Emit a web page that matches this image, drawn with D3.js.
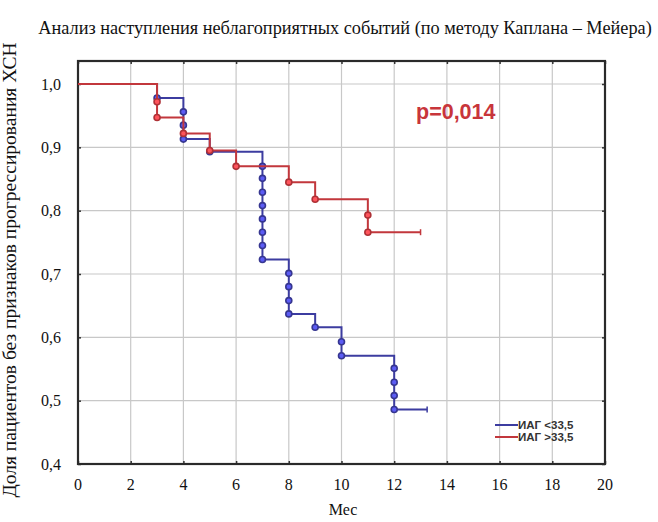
<!DOCTYPE html>
<html><head><meta charset="utf-8">
<script src="https://cdn.jsdelivr.net/npm/d3@7"></script>
<style>body{margin:0;background:#fff}</style>
</head><body>
<script>
const title = "Анализ наступления неблагоприятных событий (по методу Каплана – Мейера)";
const yLabel = "Доля пациентов без признаков прогрессирования ХСН";
const xLabel = "Мес";
const pText = "p=0,014";
const xTicks = [0,2,4,6,8,10,12,14,16,18,20];
const yTicks = [0.4,0.5,0.6,0.7,0.8,0.9,1.0];
const yTickLabels = ["0,4","0,5","0,6","0,7","0,8","0,9","1,0"];
const seriesNames = ["ИАГ <33,5", "ИАГ >33,5"];
const seriesColors = ["#3c3ca0", "#c2373c"];
// step curves: [time, survival]
const blueSteps = [[0,1.0],[3,0.978],[4,0.913],[5,0.893],[7,0.723],[8,0.637],[9,0.616],[10,0.571],[12,0.486],[13.25,0.486]];
const blueMarks = [[3,0.978],[4,0.956],[4,0.935],[4,0.913],[5,0.893],
  [7,0.870],[7,0.851],[7,0.829],[7,0.808],[7,0.787],[7,0.766],[7,0.745],[7,0.723],
  [8,0.701],[8,0.680],[8,0.658],[8,0.637],[9,0.616],[10,0.593],[10,0.571],
  [12,0.551],[12,0.529],[12,0.508],[12,0.486]];
const redSteps = [[0,1.0],[3,0.947],[4,0.922],[5,0.895],[6,0.870],[8,0.845],[9,0.818],[11,0.766],[13,0.766]];
const redMarks = [[3,0.972],[3,0.947],[4,0.922],[5,0.895],[6,0.870],[8,0.845],[9,0.818],[11,0.793],[11,0.766]];

const W = 658, H = 522;
const L = 78, R = 605, T = 61, B = 464;
const svg = d3.select("body").append("svg").attr("width", W).attr("height", H);
const x = d3.scaleLinear().domain([0,20]).range([L,R]);
const y = d3.scaleLinear().domain([0.4,1.0]).range([B,84]);
const fontSerif = "'Liberation Serif','Times New Roman',serif";

// grid
svg.append("g").selectAll("line").data(xTicks.slice(1,-1)).join("line")
  .attr("x1", d=>x(d)).attr("x2", d=>x(d)).attr("y1", T).attr("y2", B)
  .attr("stroke", "#c8c8c8").attr("stroke-width", 1.2);
svg.append("g").selectAll("line").data(yTicks.slice(1)).join("line")
  .attr("x1", L).attr("x2", R).attr("y1", d=>y(d)).attr("y2", d=>y(d))
  .attr("stroke", "#c8c8c8").attr("stroke-width", 1.2);

// axes (tick marks) 
const axes = [
  svg.append("g").attr("transform", `translate(0,${B})`).call(d3.axisBottom(x).tickValues(xTicks).tickSize(-3).tickFormat("")),
  svg.append("g").attr("transform", `translate(${L},0)`).call(d3.axisLeft(y).tickValues(yTicks).tickSize(-3).tickFormat("")),
  svg.append("g").attr("transform", `translate(0,${T})`).call(d3.axisTop(x).tickValues(xTicks).tickSize(-3).tickFormat("")),
  svg.append("g").attr("transform", `translate(${R},0)`).call(d3.axisRight(y).tickValues(yTicks).tickSize(-3).tickFormat(""))
];
axes.forEach(g=>{
  g.select(".domain").remove();
  g.selectAll(".tick line").attr("stroke","#333").attr("stroke-width",1.5);
});
// tick labels
svg.append("g").selectAll("text").data(xTicks).join("text")
  .attr("x", d=>x(d)).attr("y", B+26).attr("text-anchor","middle")
  .attr("font-family", fontSerif).attr("font-size", 16).attr("fill","#111").text(d=>d);
svg.append("g").selectAll("text").data(yTicks).join("text")
  .attr("x", L-17).attr("y", d=>y(d)+5.5).attr("text-anchor","end")
  .attr("font-family", fontSerif).attr("font-size", 16).attr("fill","#111").text((d,i)=>yTickLabels[i]);

svg.append("rect").attr("x", L).attr("y", T).attr("width", R-L).attr("height", B-T)
  .attr("fill","none").attr("stroke","#2a2a2a").attr("stroke-width",2.2);

// lines
const line = d3.line().x(d=>x(d[0])).y(d=>y(d[1])).curve(d3.curveStepAfter);
function drawSeries(steps, marks, color) {
  svg.append("path").datum(steps).attr("d", line).attr("fill","none")
    .attr("stroke", color).attr("stroke-width", 2);
  const last = steps[steps.length-1];
  svg.append("line").attr("x1", x(last[0])).attr("x2", x(last[0]))
    .attr("y1", y(last[1])-3).attr("y2", y(last[1])+3).attr("stroke", color).attr("stroke-width",1.5);
  svg.append("g").selectAll("circle").data(marks).join("circle")
    .attr("cx", d=>x(d[0])).attr("cy", d=>y(d[1])).attr("r", 3)
    .attr("fill", d3.color(color).brighter(1.2)).attr("stroke", d3.color(color).darker(0.3)).attr("stroke-width", 1.6);
}
drawSeries(blueSteps, blueMarks, seriesColors[0]);
drawSeries(redSteps, redMarks, seriesColors[1]);

// title & labels
svg.append("text").attr("x", 345).attr("y", 34).attr("text-anchor","middle")
  .style("font-family", fontSerif).style("font-size", "18.3px").attr("fill","#111").text(title);
svg.append("text").attr("transform", "translate(16,270) rotate(-90)").attr("text-anchor","middle")
  .style("font-family", fontSerif).style("font-size", "19.5px").attr("fill","#111").text(yLabel);
svg.append("text").attr("x", 343).attr("y", 515).attr("text-anchor","middle")
  .style("font-family", fontSerif).style("font-size", "16px").attr("fill","#111").text(xLabel);

svg.append("text").attr("x", 416).attr("y", 119).style("font-family","'Liberation Sans',Arial,sans-serif")
  .attr("font-weight","bold").style("font-size", "21.5px").attr("fill","#c8353b").text(pText);

// legend
const lg = svg.append("g");
seriesNames.forEach((n,i)=>{
  const yy = 425 + i*12;
  lg.append("line").attr("x1", 495).attr("x2", 518).attr("y1", yy).attr("y2", yy)
    .attr("stroke", seriesColors[i]).attr("stroke-width", 2);
  lg.append("text").attr("x", 518).attr("y", yy+4).style("font-family","'Liberation Sans Narrow','Liberation Sans',Arial,sans-serif")
    .attr("font-weight","bold").style("font-size", "11.5px").attr("fill","#333").text(n);
});
</script>
</body></html>
